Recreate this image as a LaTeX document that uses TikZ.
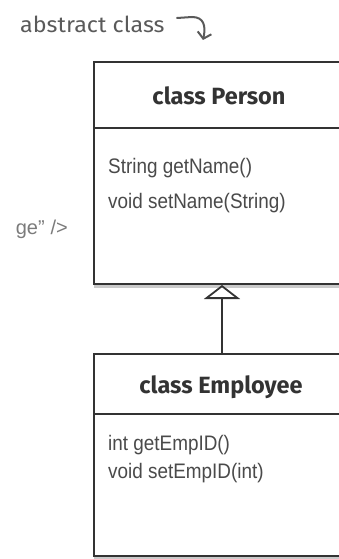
\documentclass[tikz,border=0pt]{standalone}
\usepackage{fontspec}
\setmainfont{Liberation Sans}
\newfontfamily\titlefont{Fira Sans}
\newfontfamily\handfont{Fira Sans}
\usetikzlibrary{arrows.meta,shadows}
\definecolor{ink}{HTML}{333333}
\definecolor{txt}{HTML}{4A4A4A}
\definecolor{note}{HTML}{5A5A5A}
\tikzset{
  classbox/.style={draw=ink, line width=2pt, fill=white, rectangle, anchor=north west, inner sep=0pt,
    drop shadow={shadow xshift=0pt, shadow yshift=-4pt, opacity=0.35, fill=black!60}},
  title/.style={font=\titlefont\bfseries\fontsize{23.5}{27}\selectfont, text=ink, inner sep=0pt},
  method/.style={font=\fontsize{21}{25}\selectfont, text=txt, anchor=west, inner sep=0pt},
  sep/.style={draw=ink, line width=1.6pt},
  inherit/.style={draw=ink, line width=2pt, -{Triangle[open, width=36pt, length=14pt, line width=1.8pt]}},
  notetext/.style={font=\handfont\fontsize{22}{26}\selectfont, text=note, inner sep=0pt},
}
\begin{document}
\begin{tikzpicture}[x=1pt,y=-1pt]
\useasboundingbox (0,0) rectangle (339,559);
\clip (0,0) rectangle (339,559);
% note
\node[notetext, anchor=west] (abs) at (20,24) {\scalebox{1.06}[1]{abstract class}};
\coordinate (hookA) at (177,18);
\coordinate (hookB) at (203,40);
\draw[note, line width=2pt, line cap=round, -{Straight Barb[length=6pt, width=14pt]}]
  (hookA) -- (192,17) .. controls (204,17) and (206,26) .. (hookB);
\node[font=\fontsize{20}{24}\selectfont, text=note!80, anchor=east, inner sep=0pt] (frag) at (68,229) {ge\rlap{”}\hspace{7pt} />};
% Person
\node[classbox, minimum width=260pt, minimum height=222pt] (person) at (93,61) {};
\coordinate (psep) at (93,128);
\draw[sep] (psep) -- (person.east |- psep);
\node[title] (ptitle) at (219,96) {class Person};
\node[method] (m1) at (108,168) {\scalebox{0.9}[1]{String getName()}};
\node[method] (m2) at (108,203) {\scalebox{0.9}[1]{void setName(String)}};
% Employee
\node[classbox, minimum width=260pt, minimum height=202pt] (emp) at (93,353) {};
\coordinate (esep) at (93,414);
\draw[sep] (esep) -- (emp.east |- esep);
\node[title] (etitle) at (221,387) {class Employee};
\node[method] (m3) at (108,445) {\scalebox{0.9}[1]{int getEmpID()}};
\node[method] (m4) at (108,473) {\scalebox{0.9}[1]{void setEmpID(int)}};
% inheritance
\coordinate (ax) at (222,0);
\draw[inherit] (emp.north -| ax) -- (person.south -| ax);
\end{tikzpicture}
\end{document}
